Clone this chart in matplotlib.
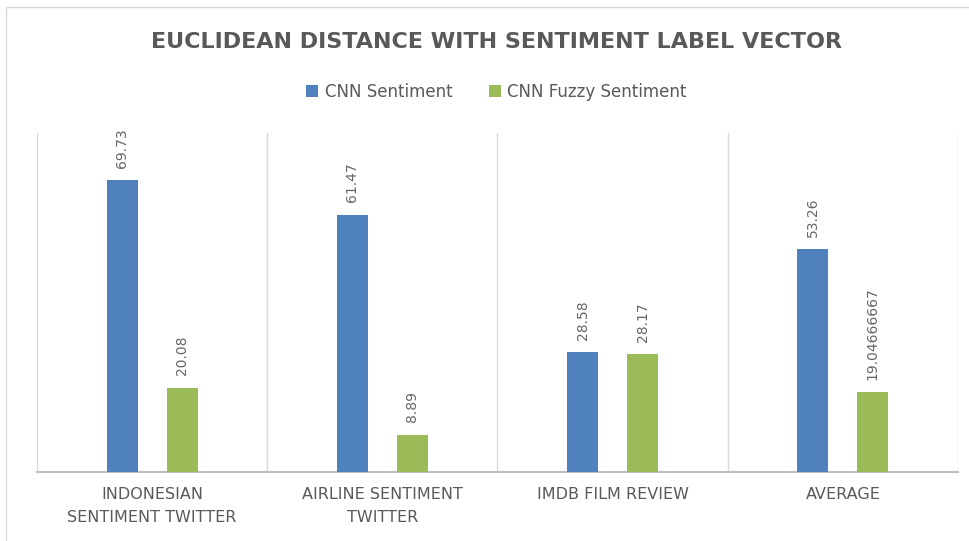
import matplotlib.pyplot as plt
import matplotlib.patches as patches
import numpy as np

categories = ['INDONESIAN\nSENTIMENT TWITTER', 'AIRLINE SENTIMENT\nTWITTER',
              'IMDB FILM REVIEW', 'AVERAGE']
cnn = [69.73, 61.47, 28.58, 53.26]
fuzzy = [20.08, 8.89, 28.17, 19.04666667]
cnn_labels = ['69.73', '61.47', '28.58', '53.26']
fuzzy_labels = ['20.08', '8.89', '28.17', '19.04666667']

blue = '#4F81BD'
green = '#9BBB59'
grey = '#595959'

fig = plt.figure(figsize=(9.7, 5.41), dpi=100)
fig.patches.append(patches.Rectangle((6/970, -0.1), 1.1, 1 - 7/541 + 0.1,
                                     transform=fig.transFigure, fill=False,
                                     edgecolor='#D9D9D9', lw=1))
ax = fig.add_axes([37/970, 1 - 472/541, 921/970, 339/541])

x = np.arange(len(categories))
w = 0.135
ax.bar(x - 0.13, cnn, w, color=blue, label='CNN Sentiment', zorder=3)
ax.bar(x + 0.13, fuzzy, w, color=green, label='CNN Fuzzy Sentiment', zorder=3)

# rotated value labels above the bars
for i in range(len(categories)):
    ax.annotate(cnn_labels[i], (x[i] - 0.13, cnn[i]), xytext=(0, 9),
                textcoords='offset points', rotation=90, ha='center', va='bottom',
                fontsize=10, color='#666666')
    ax.annotate(fuzzy_labels[i], (x[i] + 0.13, fuzzy[i]), xytext=(0, 9),
                textcoords='offset points', rotation=90, ha='center', va='bottom',
                fontsize=10, color='#666666')

ax.set_xlim(-0.5, len(categories) - 0.5)
ax.set_ylim(0, 81)
for b in np.arange(-0.5, len(categories), 1.0):
    ax.axvline(b, color='#D9D9D9', lw=1, zorder=1)
for s in ['top', 'right', 'left']:
    ax.spines[s].set_visible(False)
ax.spines['bottom'].set_color('#BFBFBF')
ax.spines['bottom'].set_linewidth(1.5)
ax.set_yticks([])
ax.set_xticks(x)
ax.set_xticklabels(categories, fontsize=11.5, color=grey, linespacing=1.65)
ax.tick_params(axis='x', length=0, pad=11)

fig.text(0.512, 1 - 42/541, 'EUCLIDEAN DISTANCE WITH SENTIMENT LABEL VECTOR',
         ha='center', va='center', fontsize=16, fontweight='bold', color=grey)
fig.legend(loc='center', bbox_to_anchor=(0.512, 1 - 92/541), ncol=2,
           frameon=False, fontsize=12, labelcolor=grey, handlelength=0.7,
           handleheight=0.7, columnspacing=2.2, handletextpad=0.4)

plt.savefig('out.png', dpi=100)
